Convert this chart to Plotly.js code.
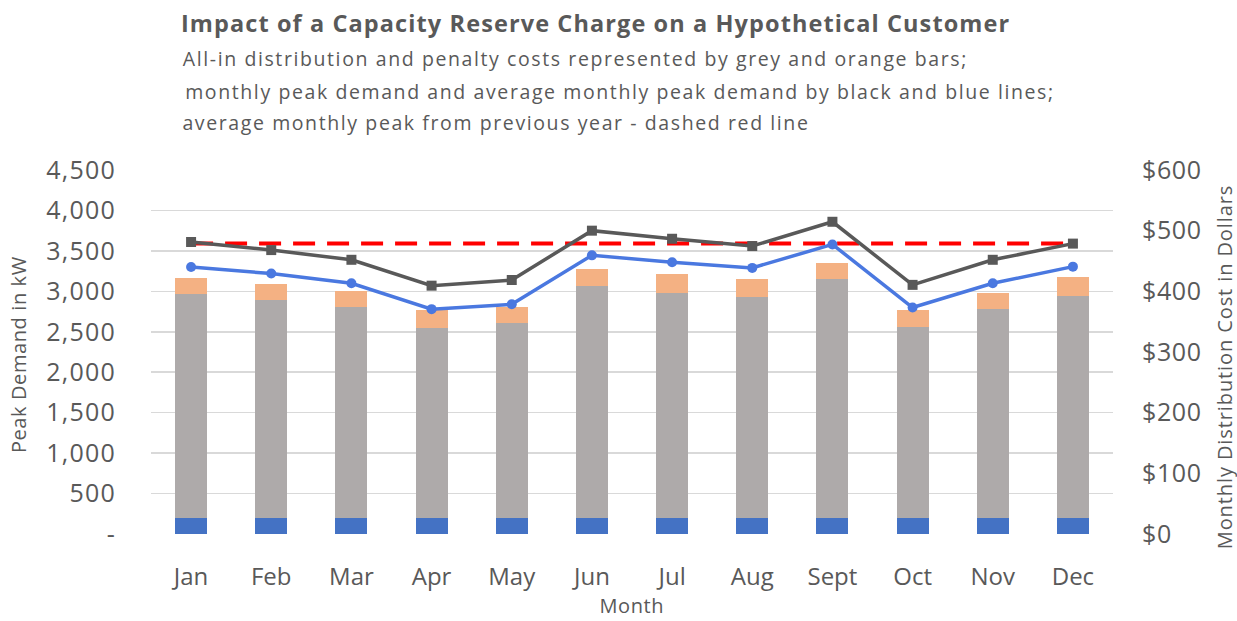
<!DOCTYPE html>
<html>
<head>
<meta charset="utf-8">
<script src="https://cdn.plot.ly/plotly-3.0.1.min.js"></script>
<style>
html,body{margin:0;padding:0;background:#fff;}
#chart{width:1237px;height:621px;}
#chart .annotation[data-index="0"] text{letter-spacing:1.1px;}
#chart .annotation[data-index="1"] text,
#chart .annotation[data-index="2"] text,
#chart .annotation[data-index="3"] text{letter-spacing:1.6px;}
#chart .annotation[data-index="4"] text,
#chart .annotation[data-index="6"] text{letter-spacing:0.6px;}
#chart .annotation[data-index="5"] text{letter-spacing:0.9px;}
#chart .y2tick text{letter-spacing:1.2px;}
#chart .ytick text{letter-spacing:0.6px;}
</style>
</head>
<body>
<div id="chart"></div>
<script>
// ---- data ----
const months = ["Jan","Feb","Mar","Apr","May","Jun","Jul","Aug","Sept","Oct","Nov","Dec"];
// stacked cost bars (dollars, right axis)
const fixedCharge  = [26, 26, 26, 26, 26, 26, 26, 26, 26, 26, 26, 26];
const distribution = [370, 359, 348, 313, 321, 383, 372, 365, 394, 316, 345, 367];
const penalty      = [26, 27, 27, 30, 27, 28, 30, 29, 27, 27, 27, 30];
// demand lines (kW, left axis)
const monthlyPeak    = [3610, 3510, 3390, 3070, 3140, 3750, 3650, 3560, 3860, 3080, 3390, 3590];
const avgMonthlyPeak = [3300, 3220, 3100, 2780, 2840, 3445, 3360, 3290, 3580, 2800, 3100, 3305];
const prevYearAvg    = [3590, 3590, 3590, 3590, 3590, 3590, 3590, 3590, 3590, 3590, 3590, 3590];
// tick labels
const kwTickVals  = [0, 500, 1000, 1500, 2000, 2500, 3000, 3500, 4000, 4500];
const kwTickText  = ["-", "500", "1,000", "1,500", "2,000", "2,500", "3,000", "3,500", "4,000", "4,500"];
const usdTickVals = [0, 100, 200, 300, 400, 500, 600];
const usdTickText = ["$0", "$100", "$200", "$300", "$400", "$500", "$600"];

const FONT = "'Open Sans', Lato, sans-serif";
const TXT = "#595959";

const traces = [
  {type:"bar", x:months, y:fixedCharge, yaxis:"y", marker:{color:"#4472C4"}, width:0.4, name:"Fixed"},
  {type:"bar", x:months, y:distribution, yaxis:"y", marker:{color:"#AEAAAA"}, width:0.4, name:"Distribution"},
  {type:"bar", x:months, y:penalty, yaxis:"y", marker:{color:"#F4B183"}, width:0.4, name:"Penalty"},
  {type:"scatter", mode:"lines", x:months, y:prevYearAvg, yaxis:"y2",
   line:{color:"#FF0000", width:4, dash:"22px,12px"}, name:"Prev year avg"},
  {type:"scatter", mode:"lines+markers", x:months, y:monthlyPeak, yaxis:"y2",
   line:{color:"#595959", width:3.5}, marker:{symbol:"square", size:10, color:"#595959"}, name:"Monthly peak"},
  {type:"scatter", mode:"lines+markers", x:months, y:avgMonthlyPeak, yaxis:"y2",
   line:{color:"#4A78E0", width:3.5}, marker:{symbol:"circle", size:10, color:"#4A78E0"}, name:"Avg monthly peak"}
];

const ypx = p => (534 - p) / 364;
const xpx = p => (p - 151) / 962;

const layout = {
  width:1237, height:621,
  margin:{l:151, r:124, t:170, b:87, pad:0},
  paper_bgcolor:"#fff", plot_bgcolor:"#fff",
  showlegend:false,
  barmode:"stack",
  font:{family:FONT, color:TXT},
  xaxis:{type:"category", range:[-0.5, 11.5], showgrid:false, zeroline:false, showline:false,
         ticks:"", tickfont:{size:24, color:TXT, family:FONT}, ticklabelstandoff:26},
  yaxis:{side:"right", range:[0, 600], tickvals:usdTickVals, ticktext:usdTickText,
         showgrid:false, zeroline:false, showline:false, ticks:"",
         tickfont:{size:25, color:TXT, family:FONT}, ticklabelstandoff:28},
  yaxis2:{side:"left", overlaying:"y", range:[0, 4500], tickvals:kwTickVals, ticktext:kwTickText,
          showgrid:true, gridcolor:"#D9D9D9", gridwidth:1.5, zeroline:false, showline:false, ticks:"",
          tickfont:{size:25, color:TXT, family:FONT}, ticklabelstandoff:34},
  annotations:[
    {text:"<b>Impact of a Capacity Reserve Charge on a Hypothetical Customer</b>", xref:"paper", yref:"paper",
     x:xpx(595), y:ypx(23), xanchor:"center", yanchor:"middle", showarrow:false, font:{size:23.5, color:TXT, family:FONT}},
    {text:"All-in distribution and penalty costs represented by grey and orange bars;", xref:"paper", yref:"paper",
     x:xpx(575), y:ypx(59), xanchor:"center", yanchor:"middle", showarrow:false, font:{size:19.5, color:TXT, family:FONT}},
    {text:"monthly peak demand and average monthly peak demand by black and blue lines;", xref:"paper", yref:"paper",
     x:xpx(620), y:ypx(91), xanchor:"center", yanchor:"middle", showarrow:false, font:{size:19.5, color:TXT, family:FONT}},
    {text:"average monthly peak from previous year - dashed red line", xref:"paper", yref:"paper",
     x:xpx(496), y:ypx(122), xanchor:"center", yanchor:"middle", showarrow:false, font:{size:19.5, color:TXT, family:FONT}},
    {text:"Peak Demand in kW", xref:"paper", yref:"paper", textangle:-90,
     x:xpx(18), y:ypx(355), xanchor:"center", yanchor:"middle", showarrow:false, font:{size:20, color:TXT, family:FONT}},
    {text:"Monthly Distribution Cost in Dollars", xref:"paper", yref:"paper", textangle:-90,
     x:xpx(1224), y:ypx(367), xanchor:"center", yanchor:"middle", showarrow:false, font:{size:20, color:TXT, family:FONT}},
    {text:"Month", xref:"paper", yref:"paper",
     x:xpx(632), y:ypx(605), xanchor:"center", yanchor:"middle", showarrow:false, font:{size:20, color:TXT, family:FONT}}
  ]
};

Plotly.newPlot("chart", traces, layout, {staticPlot:true, displayModeBar:false});
</script>
</body>
</html>
